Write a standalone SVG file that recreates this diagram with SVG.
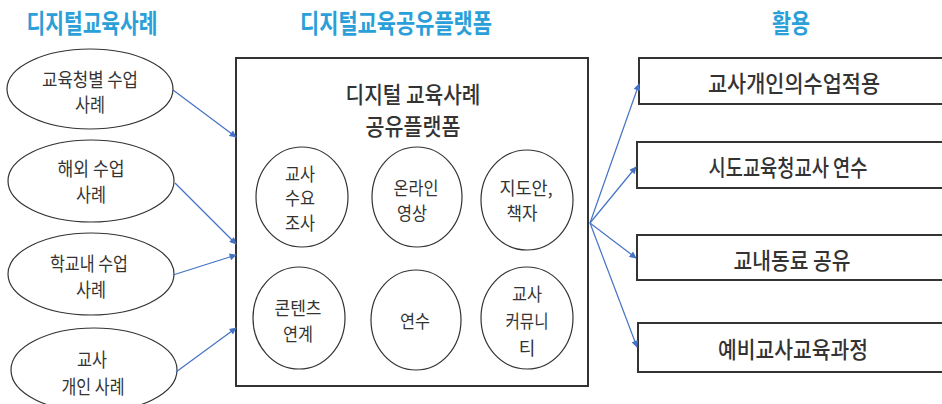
<svg xmlns="http://www.w3.org/2000/svg" width="942" height="404" viewBox="0 0 942 404">
<defs>
<marker id="ah" viewBox="0 0 10 10" refX="9" refY="5" markerWidth="8" markerHeight="7" markerUnits="userSpaceOnUse" orient="auto">
<path d="M0,0 L10,5 L0,10 z" fill="#4472c4"/>
</marker>
<style>
text{font-family:"Noto Sans CJK KR","Noto Sans",sans-serif;fill:#333;text-anchor:middle;dominant-baseline:central}
.hd{fill:#2b9fd8;font-weight:700;font-size:26px}
.el{fill:#fff;stroke:#333;stroke-width:1.2}
.ci{fill:#fff;stroke:#333;stroke-width:1.2}
.bx{fill:#fff;stroke:#333;stroke-width:2}
.et{font-size:19px}
.ct{font-size:18px}
.bt{font-size:23px;font-weight:500}
.tt{font-size:23px;font-weight:500}
.cn{stroke:#4472c4;stroke-width:1.2;fill:none;marker-end:url(#ah)}
</style>
</defs>
<rect width="942" height="404" fill="#fff"/>
<g id="headers">
<text class="hd" x="92" y="21" textLength="131" lengthAdjust="spacingAndGlyphs">디지털교육사례</text>
<text class="hd" x="396" y="21" textLength="192" lengthAdjust="spacingAndGlyphs">디지털교육공유플랫폼</text>
<text class="hd" x="791" y="21" textLength="38" lengthAdjust="spacingAndGlyphs">활용</text>
</g>
<g id="case1"><ellipse class="el" cx="90" cy="89" rx="83" ry="40"/><text class="et" x="90" y="78" textLength="96" lengthAdjust="spacingAndGlyphs">교육청별 수업</text><text class="et" x="90" y="103" textLength="30" lengthAdjust="spacingAndGlyphs">사례</text></g>
<g id="case2"><ellipse class="el" cx="91" cy="181" rx="83" ry="41"/><text class="et" x="91" y="167" textLength="67" lengthAdjust="spacingAndGlyphs">해외 수업</text><text class="et" x="91" y="193" textLength="30" lengthAdjust="spacingAndGlyphs">사례</text></g>
<g id="case3"><ellipse class="el" cx="91" cy="274" rx="83" ry="41"/><text class="et" x="89" y="262" textLength="78" lengthAdjust="spacingAndGlyphs">학교내 수업</text><text class="et" x="91" y="288" textLength="30" lengthAdjust="spacingAndGlyphs">사례</text></g>
<g id="case4"><ellipse class="el" cx="94" cy="370" rx="83" ry="42"/><text class="et" x="92" y="358" textLength="30" lengthAdjust="spacingAndGlyphs">교사</text><text class="et" x="93" y="385" textLength="63" lengthAdjust="spacingAndGlyphs">개인 사례</text></g>
<g id="platform">
<rect class="bx" x="236" y="58" width="352" height="328"/>
<text class="tt" x="413" y="93" textLength="135" lengthAdjust="spacingAndGlyphs">디지털 교육사례</text>
<text class="tt" x="413" y="125" textLength="95" lengthAdjust="spacingAndGlyphs">공유플랫폼</text>
</g>
<g id="survey"><ellipse class="ci" cx="302" cy="197" rx="46" ry="50"/><text class="ct" x="300" y="173" textLength="30" lengthAdjust="spacingAndGlyphs">교사</text><text class="ct" x="300" y="197" textLength="30" lengthAdjust="spacingAndGlyphs">수요</text><text class="ct" x="300" y="222" textLength="30" lengthAdjust="spacingAndGlyphs">조사</text></g>
<g id="video"><ellipse class="ci" cx="417" cy="197" rx="45" ry="50"/><text class="ct" x="416" y="187" textLength="45" lengthAdjust="spacingAndGlyphs">온라인</text><text class="ct" x="412" y="212" textLength="30" lengthAdjust="spacingAndGlyphs">영상</text></g>
<g id="guide"><ellipse class="ci" cx="527" cy="200" rx="46" ry="50"/><text class="ct" x="526" y="187" textLength="53" lengthAdjust="spacingAndGlyphs">지도안,</text><text class="ct" x="522" y="212" textLength="31" lengthAdjust="spacingAndGlyphs">책자</text></g>
<g id="content"><ellipse class="ci" cx="299" cy="318" rx="46" ry="51"/><text class="ct" x="298" y="307" textLength="47" lengthAdjust="spacingAndGlyphs">콘텐츠</text><text class="ct" x="298" y="333" textLength="30" lengthAdjust="spacingAndGlyphs">연계</text></g>
<g id="training"><ellipse class="ci" cx="416" cy="320" rx="45" ry="50"/><text class="ct" x="415" y="320" textLength="30" lengthAdjust="spacingAndGlyphs">연수</text></g>
<g id="community"><ellipse class="ci" cx="527" cy="318" rx="46" ry="51"/><text class="ct" x="527" y="293" textLength="30" lengthAdjust="spacingAndGlyphs">교사</text><text class="ct" x="527" y="320" textLength="43" lengthAdjust="spacingAndGlyphs">커뮤니</text><text class="ct" x="527" y="347">티</text></g>
<g id="use1"><rect class="bx" x="639" y="58" width="320" height="46"/><text class="bt" x="794" y="82" textLength="172" lengthAdjust="spacingAndGlyphs">교사개인의수업적용</text></g>
<g id="use2"><rect class="bx" x="637" y="142" width="320" height="46"/><text class="bt" x="788" y="166" textLength="159" lengthAdjust="spacingAndGlyphs">시도교육청교사 연수</text></g>
<g id="use3"><rect class="bx" x="637" y="235" width="320" height="45"/><text class="bt" x="792" y="259" textLength="117" lengthAdjust="spacingAndGlyphs">교내동료 공유</text></g>
<g id="use4"><rect class="bx" x="638" y="323" width="320" height="49"/><text class="bt" x="793" y="348" textLength="150" lengthAdjust="spacingAndGlyphs">예비교사교육과정</text></g>
<g id="connectors">
<line class="cn" x1="173" y1="90" x2="236" y2="137"/>
<line class="cn" x1="175" y1="183" x2="236" y2="244"/>
<line class="cn" x1="173" y1="275" x2="236" y2="255"/>
<line class="cn" x1="176" y1="372" x2="236" y2="328"/>
<line class="cn" x1="590" y1="223" x2="639" y2="84"/>
<line class="cn" x1="590" y1="223" x2="636" y2="167"/>
<line class="cn" x1="590" y1="223" x2="636" y2="258"/>
<line class="cn" x1="590" y1="223" x2="637" y2="347"/>
</g>
</svg>
